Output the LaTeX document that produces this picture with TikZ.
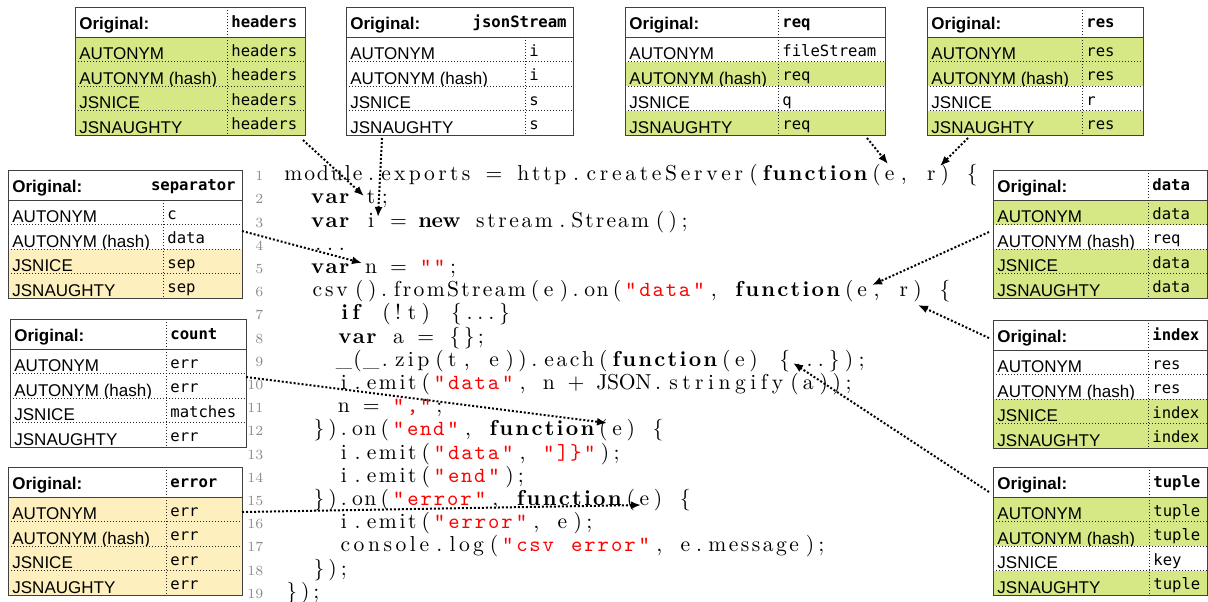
\documentclass[tikz,border=0pt]{standalone}
\usepackage{fontspec}
\usepackage{xcolor}
\usepackage{listings}
\usetikzlibrary{arrows.meta, positioning, calc}

\newfontfamily\labelfont{Liberation Sans}
\newfontfamily\valfont{DejaVu Sans Mono}

\definecolor{hitgreen}{RGB}{214,231,134}
\definecolor{hityellow}{RGB}{253,240,190}

\lstset{
  basicstyle=\fontsize{10.8}{11.6}\selectfont\rmfamily,
  keywordstyle=\bfseries,
  stringstyle=\color{red}\ttfamily,
  morekeywords={var,new,function,if},
  morestring=[b]",
  numbers=left, numberstyle=\fontsize{7}{8}\selectfont\color{black!45},
  numbersep=9.5pt,
  columns=fixed, basewidth=6.83pt,
  showstringspaces=false, keepspaces=true,
  aboveskip=0pt, belowskip=0pt, xleftmargin=0pt
}

% row names of every table
\newcommand{\rowlabel}[1]{\ifcase#1\or AUTONYM\or AUTONYM (hash)\or JSNICE\or JSNAUGHTY\fi}

% #1 name, #2 left, #3 top, #4 width, #5 divider, #6 header value,
% #7 top of divider (0 or 30), #8 value/colour for the four rows
\newcommand{\vartable}[8]{%
  \begin{scope}[shift={(#2,#3)}]
    \foreach \cellval/\cellcol [count=\i] in {#8} {
      \fill[\cellcol] (0,{30+(\i-1)*24.5}) rectangle (#4,{30+\i*24.5});
      \node[lab] (#1-a\i) at (4,{30+\i*24.5-2}) {\rowlabel{\i}};
      \node[val] (#1-v\i) at ({#5+4},{30+\i*24.5-5.5}) {\cellval};
    }
    \foreach \i in {1,2,3}
      \draw[rowline] (0,{30+\i*24.5}) -- (#4,{30+\i*24.5});
    \draw[frame] (0,30) -- (#4,30);
    \draw[rowline] (#5,#7) -- (#5,128);
    \node[lab, font=\labelfont\bfseries\fontsize{8.5}{10}\selectfont] (#1-h) at (4,22) {Original:};
    \ifnum#7=0
      \node[val, font=\valfont\bfseries\fontsize{7.8}{9}\selectfont] (#1-hv) at ({#5+4},20) {#6};
    \else
      \node[val, anchor=base east, font=\valfont\bfseries\fontsize{7.8}{9}\selectfont] (#1-hv) at ({#4-6},20) {#6};
    \fi
    \draw[frame] (0,0) rectangle (#4,128);
    \coordinate (#1-sw) at (0,128);
    \coordinate (#1-se) at (#4,128);
  \end{scope}
}

\begin{document}
\begin{tikzpicture}[x=0.5pt, y=-0.5pt,
    lab/.style={anchor=base west, inner sep=0pt, font=\labelfont\fontsize{8.5}{10}\selectfont},
    val/.style={anchor=base west, inner sep=0pt, font=\valfont\fontsize{7.8}{9}\selectfont},
    frame/.style={draw=black!75, line width=0.5pt},
    rowline/.style={black!85, line width=0.5pt, densely dotted},
    link/.style={-{Latex[length=5pt, width=4pt]}, densely dotted, line width=1pt}
]
    \useasboundingbox[fill=white] (0,0) rectangle (1208,601);

    % the code
    \node[anchor=north west, inner sep=0pt, text width=420pt] (code) at (282,157) {%
\begin{lstlisting}
module.exports = http.createServer(function(e, r) {
  var t;
  var i = new stream.Stream();
  ...
  var n = "";
  csv().fromStream(e).on("data", function(e, r) {
    if (!t) {...}
    var a = {};
    _(_.zip(t, e)).each(function(e) {...});
    i.emit("data", n + JSON.stringify(a));
    n = ",";
  }).on("end", function(e) {
    i.emit("data", "]}");
    i.emit("end");
  }).on("error", function(e) {
    i.emit("error", e);
    console.log("csv error", e.message);
  });
});
\end{lstlisting}
    };

    % tables
    \vartable{tHeaders}{75}{7}{230}{152}{headers}{0}{headers/hitgreen,headers/hitgreen,headers/hitgreen,headers/hitgreen}
    \vartable{tJson}{346}{7}{227}{179}{jsonStream}{30}{i/white,i/white,s/white,s/white}
    \vartable{tReq}{625}{7}{260}{153}{req}{0}{fileStream/white,req/hitgreen,q/white,req/hitgreen}
    \vartable{tRes}{927}{7}{216}{155}{res}{0}{res/hitgreen,res/hitgreen,r/white,res/hitgreen}
    \vartable{tSep}{8}{170}{234}{155}{separator}{30}{c/white,data/white,sep/hityellow,sep/hityellow}
    \vartable{tCount}{10}{319}{236}{156}{count}{0}{err/white,err/white,matches/white,err/white}
    \vartable{tError}{8}{467}{234}{158}{error}{0}{err/hityellow,err/hityellow,err/hityellow,err/hityellow}
    \vartable{tData}{993}{170}{214}{155}{data}{0}{data/hitgreen,req/white,data/hitgreen,data/hitgreen}
    \vartable{tIndex}{993}{320}{214}{155}{index}{0}{res/white,res/white,index/hitgreen,index/hitgreen}
    \vartable{tTuple}{993}{467}{214}{156}{tuple}{0}{tuple/hitgreen,tuple/hitgreen,key/white,tuple/hitgreen}

    % where the arrows point in the code
    \coordinate (atT) at (364,196);
    \coordinate (atI) at (378,217);
    \coordinate (atN) at (362,263);
    \coordinate (atReq) at (888,164);
    \coordinate (atRes) at (940,166);
    \coordinate (atData) at (872,285);
    \coordinate (atIndex) at (918,305);
    \coordinate (atTuple) at (793,363);
    \coordinate (atEnd) at (607,423);
    \coordinate (atErr) at (641,505);

    \draw[link] ($(tHeaders-se)+(-2,5)$) -- (atT);
    \draw[link] ($(tJson-sw)+(36,3)$) -- (atI);
    \draw[link] ($(tReq-se)+(-18,3)$) -- (atReq);
    \draw[link] ($(tRes-sw)+(41,3)$) -- (atRes);
    \draw[link] ($(tSep-se)+(0,-67)$) -- (atN);
    \draw[link] ($(tCount-se)+(0,-70)$) -- (atEnd);
    \draw[link] ($(tError-se)+(0,-83)$) -- (atErr);
    \draw[link] ($(tData-sw)+(-4,-66)$) -- (atData);
    \draw[link] ($(tIndex-sw)+(-4,-110)$) -- (atIndex);
    \draw[link] ($(tTuple-sw)+(-4,-103)$) -- (atTuple);
\end{tikzpicture}
\end{document}
